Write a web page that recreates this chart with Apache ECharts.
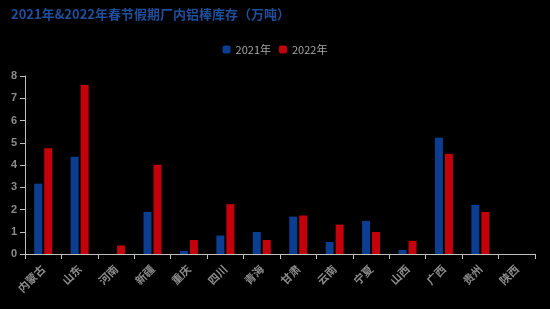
<!DOCTYPE html>
<html><head><meta charset="utf-8">
<script src="https://cdn.jsdelivr.net/npm/echarts@6/dist/echarts.min.js"></script>
<style>html,body{margin:0;padding:0;background:#000;}#c{width:550px;height:309px;}</style>
</head><body><div id="c"></div>
<script>
var categories = ['内蒙古','山东','河南','新疆','重庆','四川','青海','甘肃','云南','宁夏','山西','广西','贵州','陕西'];
var s2021 = [3.16, 4.37, 0, 1.89, 0.14, 0.83, 0.99, 1.68, 0.54, 1.49, 0.18, 5.23, 2.21, 0];
var s2022 = [4.75, 7.59, 0.38, 4.01, 0.63, 2.24, 0.63, 1.73, 1.32, 0.99, 0.59, 4.51, 1.89, 0];
var yTicks = [0,1,2,3,4,5,6,7,8];

var chart = echarts.init(document.getElementById('c'));
chart.setOption({
  backgroundColor: '#000',
  animation: false,
  title: {
    text: '2021年&2022年春节假期厂内铝棒库存（万吨）',
    left: 6, top: 3,
    textStyle: {color: '#1f4e9c', fontSize: 13, fontWeight: 'bold', fontFamily: 'Noto Sans CJK SC'}
  },
  legend: {
    top: 39, left: 'center',
    itemWidth: 8, itemHeight: 8, itemGap: 8,
    textStyle: {color: '#a6a6a6', fontSize: 11, fontFamily: 'Noto Sans CJK SC'},
    data: ['2021年','2022年']
  },
  grid: {left: 25, right: 15, top: 76, bottom: 55},
  xAxis: {
    type: 'category', data: categories,
    axisLine: {lineStyle: {color: '#bfbfbf'}},
    axisTick: {show: true, alignWithLabel: false, lineStyle: {color: '#bfbfbf'}},
    axisLabel: {rotate: 45, color: '#8c8c8c', fontSize: 11, fontWeight: 'bold', margin: 13, interval: 0, fontFamily: 'Noto Sans CJK SC'}
  },
  yAxis: {
    type: 'value', min: 0, max: 8, interval: 1,
    splitLine: {show: false},
    axisLine: {show: true, lineStyle: {color: '#bfbfbf'}},
    axisTick: {show: true, lineStyle: {color: '#bfbfbf'}},
    axisLabel: {color: '#8c8c8c', fontSize: 11, fontWeight: 'bold', margin: 8,
      formatter: function(v){ return yTicks.indexOf(v) >= 0 ? String(v) : ''; }}
  },
  series: [
    {name: '2021年', type: 'bar', data: s2021, barWidth: 8, barGap: '25%', itemStyle: {color: '#0b3d91'}},
    {name: '2022年', type: 'bar', data: s2022, barWidth: 8, itemStyle: {color: '#c4000b'}}
  ]
});
</script></body></html>
